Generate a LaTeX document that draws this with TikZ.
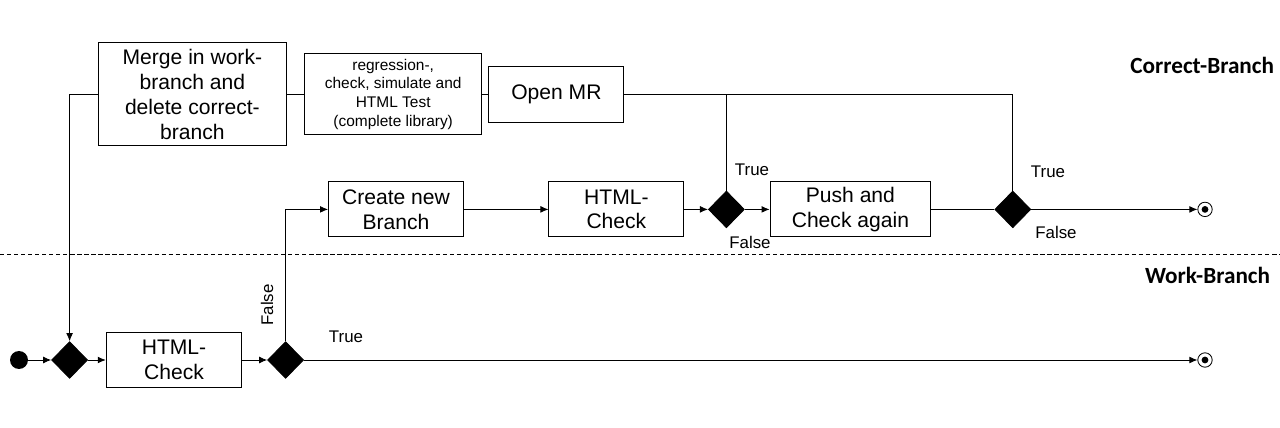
\documentclass[tikz,border=0pt]{standalone}
\usepackage{fontspec}
\setmainfont{Liberation Sans}
\newfontfamily\lanefont{Carlito}
\usetikzlibrary{arrows.meta,calc,shapes.geometric}

\begin{document}
\begin{tikzpicture}[
  >={Latex[length=2mm,width=1.7mm]},
  line width=0.6pt,
  box/.style={draw, align=center, inner sep=0pt, font=\fontsize{15}{17.7}\selectfont},
  smallbox/.style={box, font=\fontsize{11}{13.2}\selectfont},
  decision/.style={diamond, draw, fill=black, minimum width=0.9cm, minimum height=0.92cm, inner sep=0pt},
  guard/.style={font=\fontsize{12}{14}\selectfont},
  lanetitle/.style={font=\lanefont\bfseries\fontsize{16.5}{19}\selectfont},
  startnode/.style={circle, fill=black, minimum size=0.45cm, inner sep=0pt},
  endnode/.style={circle, draw, minimum size=0.36cm, inner sep=0pt}
]
  \useasboundingbox (0,0) rectangle (32,10.675);

  % Lane separator and lane titles
  \draw[dash pattern=on 3pt off 2pt, line width=0.5pt] (0,4.325) -- (32,4.325);
  \node[lanetitle, anchor=east] (correcttitle) at (31.98,9.05) {Correct-Branch};
  \node[lanetitle, anchor=east] (worktitle) at (31.88,3.8) {Work-Branch};

  % Correct-Branch: top row
  \node[box, minimum width=4.7cm, minimum height=2.575cm] (merge) at (4.81,8.32)
    {Merge in work-\\branch and\\delete correct-\\branch};
  \node[smallbox, minimum width=4.415cm, minimum height=2.025cm] (regression) at (9.83,8.32)
    {regression-,\\check, simulate and\\HTML Test\\(complete library)};
  \node[box, minimum width=3.375cm, minimum height=1.4cm] (openmr) at (13.91,8.32) {Open MR};

  % Correct-Branch: middle row
  \node[box, minimum width=3.375cm, minimum height=1.375cm] (create) at (9.9,5.44) {Create new\\Branch};
  \node[box, minimum width=3.375cm, minimum height=1.375cm] (htmlA) at (15.41,5.44) {HTML-\\Check};
  \node[decision] (dA) at (18.16,5.44) {};
  \node[box, minimum width=4.02cm, minimum height=1.375cm] (push) at (21.26,5.44) {Push and\\Check again};
  \node[decision] (dB) at (25.32,5.44) {};
  \node[endnode] (endA) at (30.125,5.44) {};
  \fill (endA.center) circle (0.085);

  % Work-Branch row
  \node[startnode] (start) at (0.475,1.675) {};
  \node[decision] (dW1) at (1.74,1.675) {};
  \node[box, minimum width=3.39cm, minimum height=1.385cm] (htmlB) at (4.35,1.675) {HTML-\\Check};
  \node[decision] (dW2) at (7.14,1.675) {};
  \node[endnode] (endB) at (30.125,1.675) {};
  \fill (endB.center) circle (0.085);

  % Top row connectors
  \draw (merge) -- (regression);
  \draw (regression) -- (openmr);
  \draw (openmr.east) -- (dB |- openmr.east) -- (dB.north);
  \draw (dA |- openmr.east) -- (dA.north);
  \draw[->] (merge.west) -| (dW1.north);

  % Middle row connectors
  \draw[->] (create) -- (htmlA);
  \draw[->] (htmlA) -- (dA);
  \draw[->] (dA) -- (push);
  \draw (push) -- (dB);
  \draw[->] (dB) -- (endA);

  % Work-Branch connectors
  \draw[->] (start) -- (dW1);
  \draw[->] (dW1) -- (htmlB);
  \draw[->] (htmlB) -- (dW2);
  \draw[->] (dW2) -- (endB);
  \draw[->] (dW2.north) |- (create.west);

  % Guards
  \node[guard] (tA) at (18.8,6.425) {True};
  \node[guard] (fA) at (18.75,4.625) {False};
  \node[guard] (tB) at (26.2,6.375) {True};
  \node[guard] (fB) at (26.4,4.875) {False};
  \node[guard, rotate=90] (fW) at (6.675,3.05) {False};
  \node[guard] (tW) at (8.65,2.25) {True};
\end{tikzpicture}
\end{document}
